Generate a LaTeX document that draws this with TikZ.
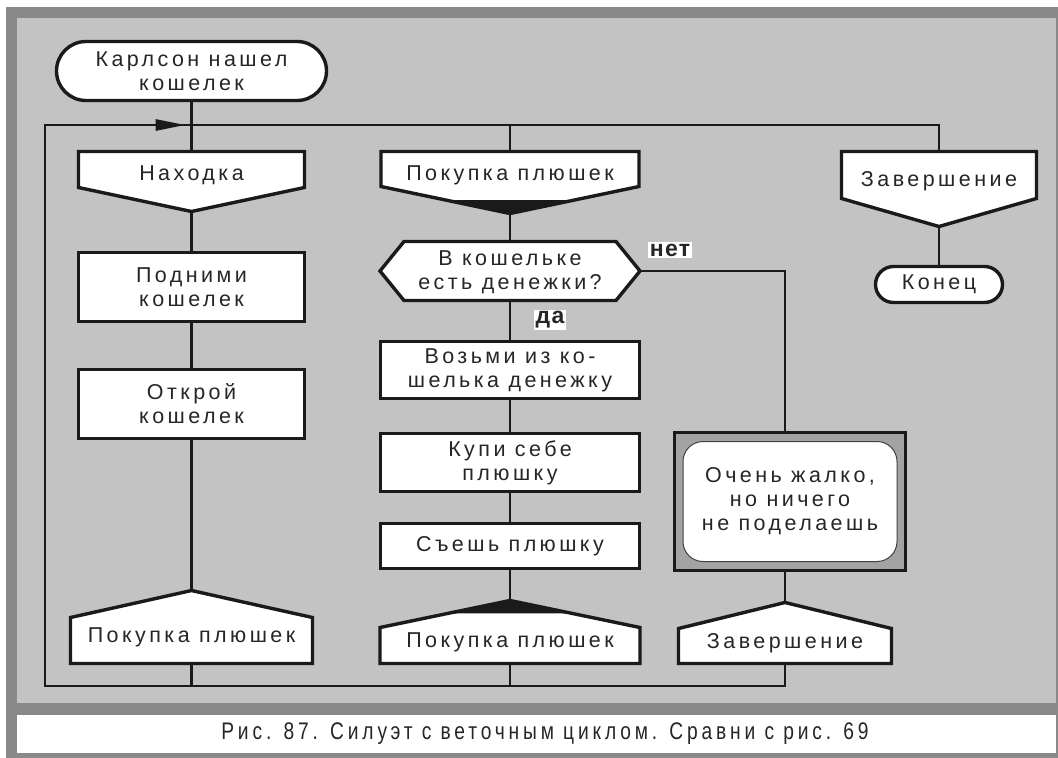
\documentclass[tikz,border=0pt]{standalone}
\usepackage{fontspec}
\setmainfont{Liberation Sans}
\newfontfamily\chartfont[LetterSpace=16]{Liberation Sans}
\newfontfamily\tagfont[LetterSpace=6]{Liberation Sans}
\newfontfamily\captionfont[FakeStretch=0.8,LetterSpace=16]{Liberation Sans}
\usetikzlibrary{calc,arrows.meta}

\definecolor{panelgray}{HTML}{C3C3C3}
\definecolor{framegray}{HTML}{898989}
\definecolor{ink}{HTML}{1A1A1A}
\definecolor{lettering}{HTML}{262626}
\definecolor{shadegray}{HTML}{A3A3A3}

\tikzset{
  outline/.style={draw=ink, line width=3.4pt, fill=white, line join=miter},
  link/.style={draw=ink, line width=2.8pt},
  chartlabel/.style={font=\chartfont\fontsize{21.5}{24}\selectfont, text=lettering, align=center, inner sep=0pt},
  actionbox/.style={outline, chartlabel},
  terminal/.style={outline, chartlabel},
  tag/.style={font=\tagfont\bfseries\fontsize{23}{24}\selectfont, text=lettering, fill=white, inner xsep=2pt, inner ysep=1.5pt},
}

% Branch header: rectangle with a point at the bottom
% #1 name, #2 centre x, #3 top y, #4 half width, #5 body height, #6 point depth, #7 text
\newcommand\BranchHead[7]{%
  \draw[outline] (#2-#4,#3) -- (#2+#4,#3) -- (#2+#4,#3+#5) -- (#2,#3+#5+#6) -- (#2-#4,#3+#5) -- cycle;
  \coordinate (#1-in) at (#2,#3);
  \coordinate (#1-out) at (#2,#3+#5+#6);
  \coordinate (#1-l) at (#2-#4,#3+#5);
  \coordinate (#1-r) at (#2+#4,#3+#5);
  \node[chartlabel] (#1) at (#2,#3+#5/2+6) {#7};
}

% Branch address: rectangle with a point at the top
% #1 name, #2 centre x, #3 point y, #4 half width, #5 point height, #6 body height, #7 text
\newcommand\BranchFoot[7]{%
  \draw[outline] (#2,#3) -- (#2+#4,#3+#5) -- (#2+#4,#3+#5+#6) -- (#2-#4,#3+#5+#6) -- (#2-#4,#3+#5) -- cycle;
  \coordinate (#1-in) at (#2,#3);
  \coordinate (#1-out) at (#2,#3+#5+#6);
  \coordinate (#1-l) at (#2-#4,#3+#5);
  \coordinate (#1-r) at (#2+#4,#3+#5);
  \node[chartlabel] (#1) at (#2,#3+#5+#6/2-3) {#7};
}

\begin{document}
\begin{tikzpicture}[x=1pt,y=-1pt]
\useasboundingbox (0,0) rectangle (1058,758);

% frame, panel and caption strip
\fill[white] (0,0) rectangle (1058,758);
\fill[framegray] (6,7) rectangle (1058,758);
\fill[panelgray] (17,18) rectangle (1056,703);
\fill[white] (17,715) rectangle (1056,753);
\node[font=\captionfont\fontsize{24}{26}\selectfont, text=lettering, inner sep=0pt] (caption) at (545,734)
  {Рис. 87. Силуэт с веточным циклом. Сравни с рис. 69};

% start
\node[terminal, minimum width=270pt, minimum height=59pt, rounded corners=29.5pt] (start) at (191.5,71)
  {Карлсон нашел\\кошелек};

% branch 1
\BranchHead{h1}{191.5}{151.5}{113}{36}{24}{Находка}
\node[actionbox, minimum width=226pt, minimum height=69pt] (b1) at (191.5,287) {Подними\\кошелек};
\node[actionbox, minimum width=226pt, minimum height=69pt] (b2) at (191.5,404) {Открой\\кошелек};
\BranchFoot{f1}{191.5}{590.5}{121}{27}{46}{Покупка плюшек}

% branch 2
\BranchHead{h2}{510}{151.5}{129}{35}{27}{Покупка плюшек}
\fill[ink] ($(h2-l)!0.5!(h2-out)$) -- (h2-out) -- ($(h2-r)!0.5!(h2-out)$) -- cycle;

\draw[outline] (380,271) -- (404,241.5) -- (616,241.5) -- (640,271) -- (616,300.5) -- (404,300.5) -- cycle;
\coordinate (q-in) at (510,241.5);
\coordinate (q-yes) at (510,300.5);
\coordinate (q-no) at (640,271);
\node[chartlabel] (q) at (510,272) {В кошельке\\есть денежки?};

\node[actionbox, minimum width=259pt, minimum height=57pt] (b3) at (510,370) {Возьми из ко-\\шелька денежку};
\node[actionbox, minimum width=259pt, minimum height=58pt] (b4) at (510,462.5) {Купи себе\\плюшку};
\node[actionbox, minimum width=259pt, minimum height=45pt] (b5) at (510,546) {Съешь плюшку};
\BranchFoot{f2}{510}{600.5}{130}{27}{36}{Покупка плюшек}
\fill[ink] ($(f2-in)!0.48!(f2-l)$) -- (f2-in) -- ($(f2-in)!0.48!(f2-r)$) -- cycle;

% branch 3
\node[draw=ink, line width=3pt, fill=shadegray, minimum width=231pt, minimum height=138pt] (sorry) at (790,501.5) {};
\node[chartlabel, draw=black!75, line width=1pt, fill=white, rounded corners=20pt,
      minimum width=214pt, minimum height=120pt] (sorrytext) at (sorry) {Очень жалко,\\но ничего\\не поделаешь};
\BranchFoot{f3}{785}{602.5}{106.5}{26}{35}{Завершение}

% last branch
\BranchHead{h4}{939}{151.5}{97.5}{47}{28}{Завершение}
\node[terminal, minimum width=127pt, minimum height=36pt, rounded corners=18pt] (end) at (939,284.5) {Конец};

% loop corners
\coordinate (loopBL) at (45,686);
\coordinate (loopTL) at (45,125);

% connectors
\draw[link] (start) -- (h1-in);
\draw[link] (h1-out) -- (b1);
\draw[link] (b1) -- (b2);
\draw[link] (b2) -- (f1-in);
\draw[link] (f1-out) -- (f1-out |- loopBL);

\draw[link] (loopTL -| h2-in) -- (h2-in);
\draw[link] (h2-out) -- (q-in);
\draw[link] (q-yes) -- (b3);
\draw[link] (b3) -- (b4);
\draw[link] (b4) -- (b5);
\draw[link] (b5) -- (f2-in);
\draw[link] (f2-out) -- (f2-out |- loopBL);

\draw[link] (q-no) -| (sorry.north -| f3-in);
\draw[link] (sorry.south -| f3-in) -- (f3-in);
\draw[link] (f3-out) |- (loopBL) -- (loopTL) -- (loopTL -| h4-in) -- (h4-in);
\draw[link, -{Triangle[length=30pt,width=11pt]}, shorten >=6pt] (loopTL) -- (loopTL -| start);

\draw[link] (h4-out) -- (end);

% answer tags
\node[tag] (no) at (670,250) {нет};
\node[tag] (yes) at (550,320) {да};

\end{tikzpicture}
\end{document}
